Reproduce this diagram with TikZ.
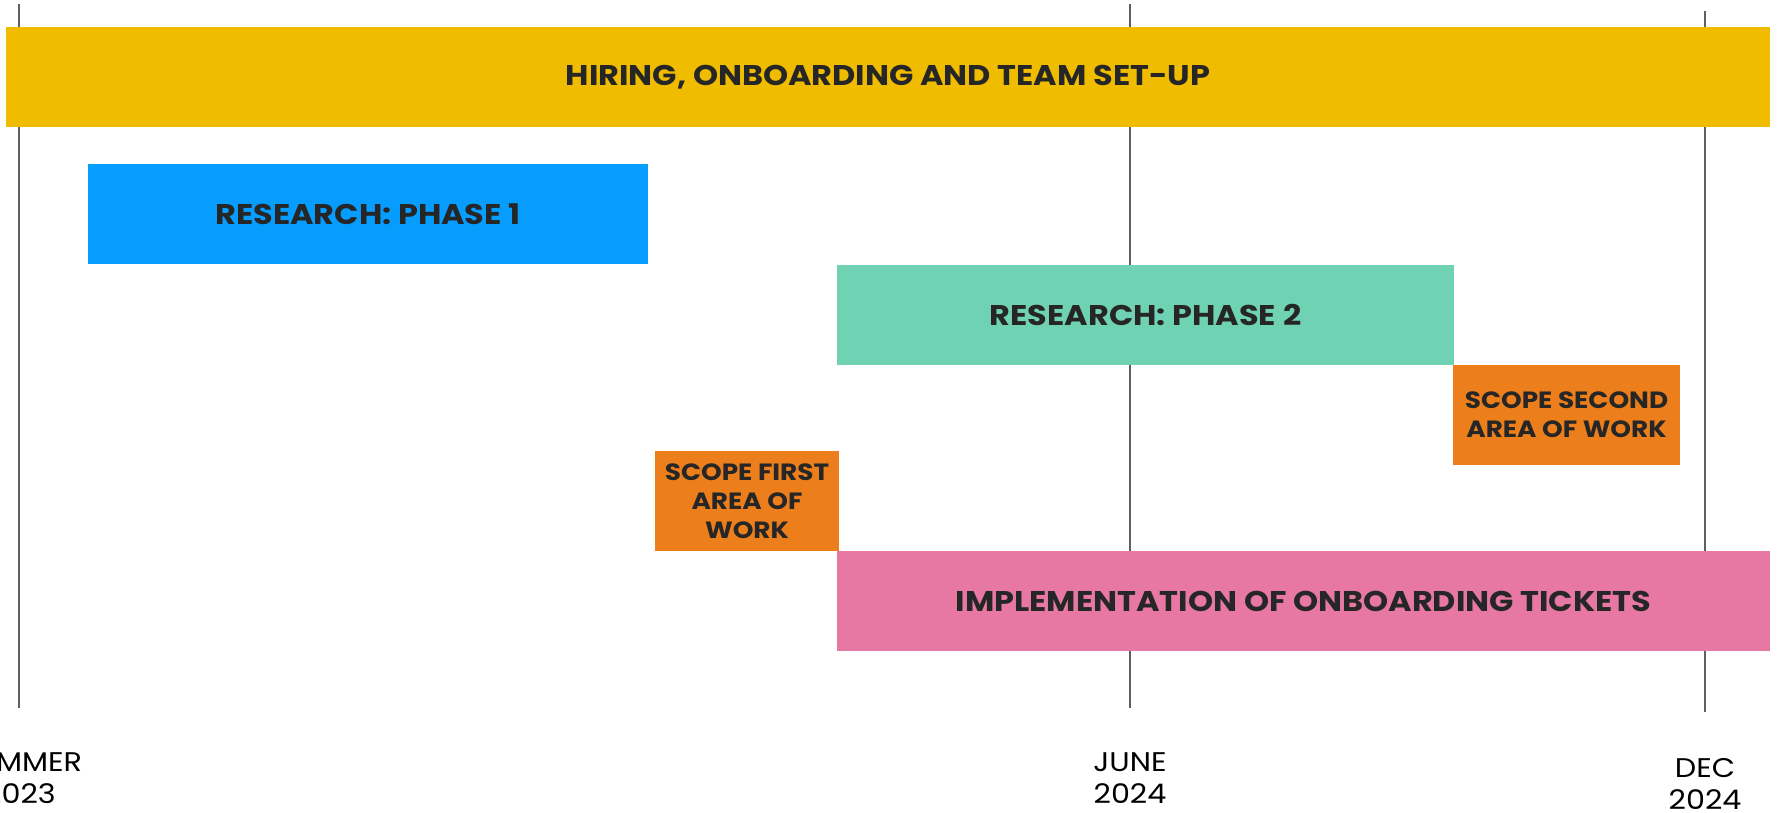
\documentclass[tikz,border=0pt]{standalone}
\usepackage{fontspec}
\setmainfont{Poppins}[FakeStretch=1.12]
\definecolor{cyellow}{HTML}{EFBC00}
\definecolor{cblue}{HTML}{069DFF}
\definecolor{cteal}{HTML}{6FD3B3}
\definecolor{corange}{HTML}{EC7E1B}
\definecolor{cpink}{HTML}{E778A3}
\definecolor{ctext}{HTML}{262626}
\definecolor{cline}{HTML}{5F5F5F}
\begin{document}
\begin{tikzpicture}[x=1pt,y=-1pt,
  bar/.style={draw=none, inner sep=0pt, minimum height=100pt, text=ctext,
    font=\fontsize{28.5}{32}\selectfont\bfseries, align=center},
  smallbar/.style={bar, font=\fontsize{23.5}{29}\selectfont\bfseries},
  grid/.style={draw=cline, line width=2.2pt},
  datelabel/.style={font=\fontsize{27}{32}\selectfont, text=black, align=center, inner sep=0pt}]
\useasboundingbox (0,0) rectangle (1777,812);
\clip (0,0) rectangle (1777,812);
% grid lines
\coordinate (s1) at (19,4);   \coordinate (s2) at (19,708);
\coordinate (j1) at (1130,4); \coordinate (j2) at (1130,708);
\coordinate (d1) at (1705,11); \coordinate (d2) at (1705,712);
\draw[grid] (s1) -- (s2);
\draw[grid] (j1) -- (j2);
\draw[grid] (d1) -- (d2);
% bars
\node[bar, fill=cyellow, minimum width=1764pt] (hiring) at (888,77) {HIRING, ONBOARDING AND TEAM SET-UP};
\node[bar, fill=cblue, minimum width=560pt] (res1) at (368,214) {RESEARCH: PHASE 1};
\node[bar, fill=cteal, minimum width=617pt] (res2) at (1145.5,315) {RESEARCH: PHASE 2};
\node[smallbar, fill=corange, minimum width=227pt] (scope2) at (1566.5,415) {SCOPE SECOND\\AREA OF WORK};
\node[smallbar, fill=corange, minimum width=184pt] (scope1) at (747,501) {SCOPE FIRST\\AREA OF\\WORK};
\node[bar, fill=cpink, minimum width=933pt] (impl) at (1303.5,601) {IMPLEMENTATION OF ONBOARDING TICKETS};
% date labels
\node[datelabel] (summer) at (20,778) {SUMMER\\2023};
\node[datelabel] (june) at (1130,778) {JUNE\\2024};
\node[datelabel] (dec) at (1705,784) {DEC\\2024};
\end{tikzpicture}
\end{document}
